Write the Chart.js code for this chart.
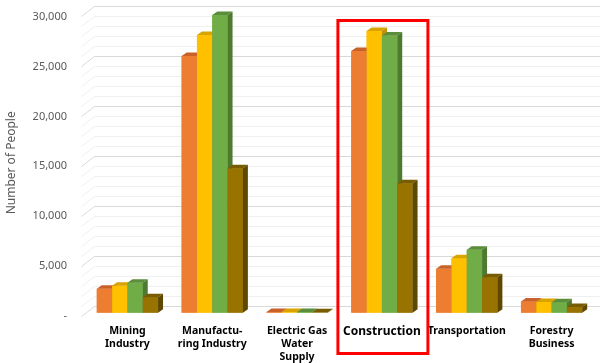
<!DOCTYPE html>
<html>
<head>
<meta charset="utf-8">
<script src="https://cdn.jsdelivr.net/npm/chart.js@4.4.1/dist/chart.umd.min.js"></script>
<style>
  html, body { margin: 0; padding: 0; background: #fff; }
  #wrap { width: 600px; height: 363px; position: relative; }
</style>
</head>
<body>
<div id="wrap"><canvas id="peopleChart"></canvas></div>
<script>
// categories and values
const categories = [
  ["Mining", "Industry"],
  ["Manufactu-", "ring Industry"],
  ["Electric Gas", "Water", "Supply"],
  "Construction",
  "Transportation",
  ["Forestry", "Business"]
];
const series1 = [2400, 25700, 70, 26200, 4400, 1130];
const series2 = [2700, 27800, 60, 28200, 5450, 1070];
const series3 = [3000, 29800, 80, 27750, 6300, 1050];
const series4 = [1550, 14450, 40, 12950, 3550, 570];
const yTicks = [0, 5000, 10000, 15000, 20000, 25000, 30000];
const highlightIndex = 3;

const fronts = ["#ED7D31", "#FFC000", "#70AD47", "#997300"];
const tops   = ["#C8612A", "#D9A300", "#5B8E3A", "#7A5C00"];
const sides  = ["#B5561F", "#C29100", "#4E7A30", "#5E4700"];

const DX = 5, DY = 3.5;

// back wall + side wall grid (3D look)
const wallGrid = {
  id: "wallGrid",
  beforeDatasetsDraw(chart) {
    const ctx = chart.ctx;
    const y = chart.scales.y;
    const left = chart.chartArea.left;
    ctx.save();
    ctx.lineWidth = 1;
    for (let v = 0; v <= 30000; v += 1000) {
      const py = y.getPixelForValue(v);
      const back = Math.round(py - 7) + 0.5;
      const front = back + 10;
      ctx.strokeStyle = v % 5000 === 0 ? "#d9d9d9" : "#efefef";
      ctx.beginPath();
      ctx.moveTo(left - 3.5, front);
      ctx.lineTo(left + 9.5, back);
      ctx.lineTo(chart.width, back);
      ctx.stroke();
    }
    ctx.restore();
  }
};

// redraw bars left to right as boxes: front, top, right side
const bar3d = {
  id: "bar3d",
  afterDatasetsDraw(chart) {
    const ctx = chart.ctx;
    ctx.save();
    chart.data.datasets.forEach((ds, i) => {
      const meta = chart.getDatasetMeta(i);
      meta.data.forEach(el => {
        const l = el.x - el.width / 2, r = el.x + el.width / 2;
        const t = el.y, b = el.base;
        ctx.fillStyle = fronts[i];
        ctx.fillRect(l, t, r - l, b - t);
        ctx.fillStyle = tops[i];
        ctx.beginPath();
        ctx.moveTo(l, t);
        ctx.lineTo(l + DX, t - DY);
        ctx.lineTo(r + DX, t - DY);
        ctx.lineTo(r, t);
        ctx.closePath();
        ctx.fill();
        ctx.fillStyle = sides[i];
        ctx.beginPath();
        ctx.moveTo(r, t);
        ctx.lineTo(r + DX, t - DY);
        ctx.lineTo(r + DX, b - DY);
        ctx.lineTo(r, b);
        ctx.closePath();
        ctx.fill();
      });
    });
    ctx.restore();
  }
};

// red box around the highlighted category
const highlight = {
  id: "highlight",
  afterDraw(chart) {
    const ctx = chart.ctx;
    const cx = chart.scales.x.getPixelForValue(highlightIndex);
    ctx.save();
    ctx.strokeStyle = "#FF0000";
    ctx.lineWidth = 3;
    ctx.strokeRect(cx - 44, 20.5, 90, 333);
    ctx.restore();
  }
};

const seriesList = [series1, series2, series3, series4];

new Chart(document.getElementById("peopleChart"), {
  type: "bar",
  data: {
    labels: categories,
    datasets: seriesList.map((d, i) => ({
      label: "Series " + (i + 1),
      data: d,
      backgroundColor: fronts[i],
      borderWidth: 0
    }))
  },
  options: {
    responsive: true,
    maintainAspectRatio: false,
    animation: false,
    layout: { padding: { top: 13, right: 6, left: 0, bottom: 0 } },
    datasets: { bar: { categoryPercentage: 0.722, barPercentage: 1 } },
    plugins: { legend: { display: false }, tooltip: { enabled: false } },
    scales: {
      x: {
        afterFit(scale) { scale.height = 50.3; },
        grid: { display: false, drawTicks: false },
        border: { display: false },
        ticks: {
          autoSkip: false,
          maxRotation: 0,
          padding: 12,
          color: "#000",
          font: ctx => ctx.index === highlightIndex
            ? { family: "'Noto Sans'", size: 12, weight: "bold", lineHeight: 1.15 }
            : { family: "'Noto Sans'", size: 10.5, weight: "bold", lineHeight: 1.22 }
        }
      },
      y: {
        min: 0,
        max: 30000,
        afterFit(scale) { scale.width = 85; },
        afterBuildTicks(scale) { scale.ticks = yTicks.map(v => ({ value: v })); },
        grid: { display: false, drawTicks: true, tickLength: 16 },
        border: { display: false },
        ticks: {
          padding: 2,
          labelOffset: 3.5,
          color: "#595959",
          font: { family: "'Noto Sans'", size: 11 },
          callback: v => v === 0 ? "-" : v.toLocaleString("en-US")
        },
        title: {
          display: true,
          text: "Number of People",
          color: "#595959",
          font: { family: "'Noto Sans'", size: 12 },
          padding: { top: 4, bottom: 0 }
        }
      }
    }
  },
  plugins: [wallGrid, bar3d, highlight]
});
</script>
</body>
</html>
